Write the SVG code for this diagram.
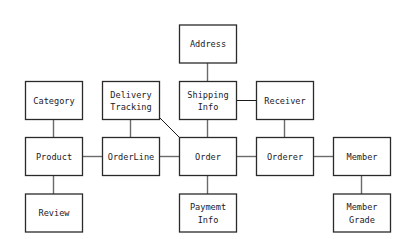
<svg xmlns="http://www.w3.org/2000/svg" width="417" height="239" viewBox="0 0 417 239">
<style>
.box{fill:#fff;stroke:#2a2a2a;stroke-width:1.3}
.t{font-family:"DejaVu Sans Mono","Liberation Mono",monospace;font-size:8.6px;fill:#1a1a2a;text-anchor:middle}
.e{stroke:#6a6a6a;stroke-width:1.4;fill:none}
.k{stroke:#1a1a1a;stroke-width:1;fill:none}
</style>
<rect width="417" height="239" fill="#fff"/>
<g id="edges">
<line class="e" x1="207.5" y1="63" x2="207.5" y2="81.5"/>
<line class="k" x1="236" y1="100.5" x2="256" y2="100.5"/>
<line class="e" x1="53.5" y1="119.5" x2="53.5" y2="137.5"/>
<line class="e" x1="130.5" y1="119.5" x2="130.5" y2="137.5"/>
<line class="e" x1="207.5" y1="119.5" x2="207.5" y2="137.5"/>
<line class="e" x1="284.5" y1="119.5" x2="284.5" y2="137.5"/>
<line class="k" x1="159.5" y1="117.5" x2="179.5" y2="137.5"/>
<line class="e" x1="82" y1="156.5" x2="102" y2="156.5"/>
<line class="e" x1="159" y1="156.5" x2="179" y2="156.5"/>
<line class="e" x1="236" y1="156.5" x2="256" y2="156.5"/>
<line class="e" x1="313" y1="156.5" x2="333" y2="156.5"/>
<line class="e" x1="53.5" y1="175.5" x2="53.5" y2="194"/>
<line class="e" x1="207.5" y1="175.5" x2="207.5" y2="194"/>
<line class="e" x1="361.5" y1="175.5" x2="361.5" y2="194"/>
</g>
<g id="address"><rect class="box" x="179.5" y="25" width="57" height="38"/><text class="t" x="208" y="47">Address</text></g>
<g id="category"><rect class="box" x="25.5" y="81.5" width="57" height="38"/><text class="t" x="54" y="103.5">Category</text></g>
<g id="delivery"><rect class="box" x="102.5" y="81.5" width="57" height="38"/><text class="t" x="131" y="97.5">Delivery</text><text class="t" x="131" y="110">Tracking</text></g>
<g id="shipping"><rect class="box" x="179.5" y="81.5" width="57" height="38"/><text class="t" x="208" y="97.5">Shipping</text><text class="t" x="208" y="110">Info</text></g>
<g id="receiver"><rect class="box" x="256.5" y="81.5" width="57" height="38"/><text class="t" x="285" y="103.5">Receiver</text></g>
<g id="product"><rect class="box" x="25.5" y="137.5" width="57" height="38"/><text class="t" x="54" y="159.5">Product</text></g>
<g id="orderline"><rect class="box" x="102.5" y="137.5" width="57" height="38"/><text class="t" x="131" y="159.5">OrderLine</text></g>
<g id="order"><rect class="box" x="179.5" y="137.5" width="57" height="38"/><text class="t" x="208" y="159.5">Order</text></g>
<g id="orderer"><rect class="box" x="256.5" y="137.5" width="57" height="38"/><text class="t" x="285" y="159.5">Orderer</text></g>
<g id="member"><rect class="box" x="333.5" y="137.5" width="57" height="38"/><text class="t" x="362" y="159.5">Member</text></g>
<g id="review"><rect class="box" x="25.5" y="194" width="57" height="38"/><text class="t" x="54" y="216">Review</text></g>
<g id="payment"><rect class="box" x="179.5" y="194" width="57" height="38"/><text class="t" x="208" y="210">Paymemt</text><text class="t" x="208" y="222.5">Info</text></g>
<g id="membergrade"><rect class="box" x="333.5" y="194" width="57" height="38"/><text class="t" x="362" y="210">Member</text><text class="t" x="362" y="222.5">Grade</text></g>
</svg>
